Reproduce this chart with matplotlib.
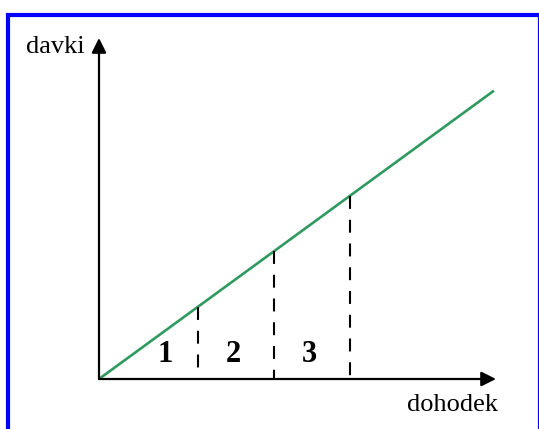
import matplotlib.pyplot as plt
from matplotlib.patches import Rectangle

# podatki za diagram (enote ~ pikslji od izhodišča)
income_breaks = [99, 175, 251]
tax_rate = 0.73
income_max = 395
zone_labels = ['1', '2', '3']
zone_label_x = [66, 134, 210]
x_axis_len = 397
y_axis_len = 341

plt.rcParams['font.family'] = ['Liberation Serif', 'DejaVu Serif']

fig = plt.figure(figsize=(5.39, 4.29), dpi=100)
ax = fig.add_axes([0, 0, 1, 1])
ax.set_xlim(-99, 440)
ax.set_ylim(-50, 379)
ax.axis('off')

# modri okvir (desni rob je skoraj odrezan)
fig.patches.append(Rectangle((8 / 539, -0.05), 532 / 539, (429 - 15) / 429 + 0.05,
                             transform=fig.transFigure, fill=False,
                             edgecolor='#0000ff', lw=3.0))

# osi s puščicami
arrow = dict(arrowstyle='-|>', mutation_scale=22, lw=1.6, color='black',
             shrinkA=0, shrinkB=0)
ax.annotate('', xy=(x_axis_len, 0), xytext=(0, 0), arrowprops=arrow)
ax.annotate('', xy=(0, y_axis_len), xytext=(0, 0), arrowprops=arrow)

# premica davkov
ax.plot([0, income_max], [0, tax_rate * income_max], color='#2e9a5f', lw=1.9,
        solid_capstyle='butt')

# črtkane navpičnice (od premice navzdol)
for b in income_breaks:
    ax.plot([b, b], [tax_rate * b, 0], color='black', lw=1.5, dashes=(6.2, 5.2))

for lab, x in zip(zone_labels, zone_label_x):
    ax.text(x, 24, lab, fontsize=22, fontweight='bold', ha='center', va='center')

ax.text(-14, 332, 'davki', fontsize=19, ha='right', va='center')
ax.text(353, -26, 'dohodek', fontsize=19, ha='center', va='center')

fig.savefig('out.png', dpi=100)
